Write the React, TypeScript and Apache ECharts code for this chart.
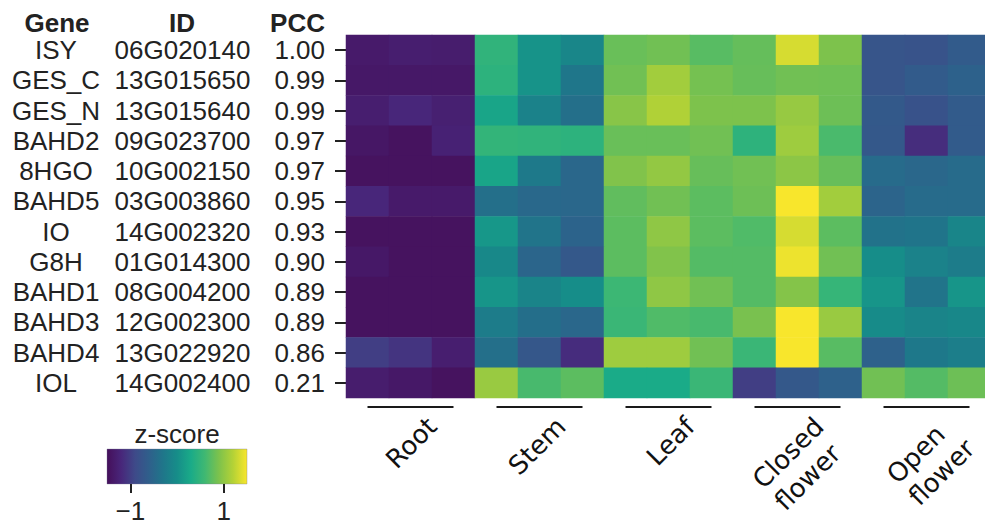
import React, { useEffect, useRef } from "react";
import * as echarts from "echarts";

const genes = ["ISY", "GES_C", "GES_N", "BAHD2", "8HGO", "BAHD5", "IO", "G8H", "BAHD1", "BAHD3", "BAHD4", "IOL"];
const geneIds = ["06G020140", "13G015650", "13G015640", "09G023700", "10G002150", "03G003860", "14G002320", "01G014300", "08G004200", "12G002300", "13G022920", "14G002400"];
const pccValues = ["1.00", "0.99", "0.99", "0.97", "0.97", "0.95", "0.93", "0.90", "0.89", "0.89", "0.86", "0.21"];
const tissues = ["Root", "Stem", "Leaf", "Closed\nflower", "Open\nflower"];
const replicates = [1, 2, 3];

const zISY = [-1.35, -1.3, -1.32, 0.48, 0.06, -0.09, 0.8, 0.84, 0.72, 0.78, 1.35, 0.9, -0.75, -0.77, -0.66];
const zGESC = [-1.38, -1.38, -1.38, 0.45, 0.06, -0.3, 0.84, 1.1, 0.86, 0.79, 0.84, 0.83, -0.75, -0.66, -0.57];
const zGESN = [-1.3, -1.2, -1.28, 0.24, -0.15, -0.39, 0.96, 1.18, 0.9, 0.9, 1.04, 0.82, -0.68, -0.78, -0.66];
const zBAHD2 = [-1.4, -1.45, -1.26, 0.5, 0.48, 0.45, 0.8, 0.8, 0.84, 0.46, 1.08, 0.65, -0.7, -1.14, -0.66];
const z8HGO = [-1.45, -1.45, -1.45, 0.24, -0.26, -0.5, 0.92, 1.02, 0.79, 0.84, 0.98, 0.79, -0.45, -0.5, -0.45];
const zBAHD5 = [-1.2, -1.35, -1.35, -0.39, -0.48, -0.5, 0.76, 0.84, 0.74, 0.82, 1.5, 1.1, -0.54, -0.45, -0.45];
const zIO = [-1.45, -1.45, -1.45, 0.1, -0.33, -0.55, 0.74, 1.0, 0.74, 0.68, 1.35, 0.74, -0.35, -0.32, -0.1];
const zG8H = [-1.38, -1.45, -1.45, -0.06, -0.52, -0.7, 0.74, 0.92, 0.7, 0.7, 1.45, 0.84, 0.0, -0.15, -0.22];
const zBAHD1 = [-1.45, -1.45, -1.45, 0.08, -0.12, 0.0, 0.57, 1.0, 0.84, 0.7, 0.94, 0.52, 0.08, -0.33, 0.08];
const zBAHD3 = [-1.45, -1.45, -1.45, -0.22, -0.4, -0.5, 0.55, 0.68, 0.64, 0.88, 1.5, 1.05, -0.02, -0.12, -0.08];
const zBAHD4 = [-1.0, -1.08, -1.3, -0.39, -0.72, -1.15, 1.08, 1.08, 0.84, 0.55, 1.5, 0.72, -0.58, -0.28, -0.2];
const zIOL = [-1.32, -1.38, -1.45, 1.05, 0.64, 0.74, 0.3, 0.3, 0.55, -1.0, -0.7, -0.58, 0.84, 0.7, 0.82];

const zRows = [zISY, zGESC, zGESN, zBAHD2, z8HGO, zBAHD5, zIO, zG8H, zBAHD1, zBAHD3, zBAHD4, zIOL];
const zMin = -1.5;
const zMax = 1.5;
const colorbarTicks = [-1, 1];

// viridis as it appears in the reference rendering
const palette = ["#450f5a", "#48267a", "#3e4a89", "#2f5f8b", "#1f768a", "#168d89", "#1aab88", "#40b872", "#7dc24c", "#b4d236", "#f8e62c"];

const SANS = "Liberation Sans, Arial, sans-serif";
const DEJAVU = "DejaVu Sans, sans-serif";

export default function App() {
  const ref = useRef<HTMLDivElement>(null);

  useEffect(() => {
    if (!ref.current) return;
    const chart = echarts.init(ref.current, undefined, { renderer: "svg" });

    const columns = tissues.flatMap((t) => replicates.map((r) => `${t.replace("\n", " ")} ${r}`));
    const heatData: number[][] = [];
    zRows.forEach((row, yi) => row.forEach((v, xi) => heatData.push([xi, yi, v])));
    const lastRow = genes.length - 1;

    const groupLabel = (v: number) => {
      const t = tissues[Math.floor(v / 3)] || "";
      const lines = t.split("\n");
      if (lines.length > 1) return ["{a|\u00a0}", ...lines.map((l) => `{a|${l}}`)].join("\n");
      return `{a|${t}}`;
    };

    const yLabelBase = {
      interval: 0,
      fontSize: 26,
      fontFamily: SANS,
      color: "#222",
      padding: [5, 0, 0, 0],
    };

    chart.setOption({
      animation: false,
      backgroundColor: "#fff",
      grid: [
        { left: 346, top: 35, width: 645, height: 363, containLabel: false, outerBoundsMode: "none" },
        {
          left: 107, top: 449, width: 140, height: 35, containLabel: false, outerBoundsMode: "none",
          show: true, borderWidth: 1, borderColor: "rgba(120,120,150,0.35)",
          backgroundColor: new echarts.graphic.LinearGradient(0, 0, 1, 0,
            palette.map((c, i) => ({ offset: i / (palette.length - 1), color: c }))),
        },
      ],
      xAxis: [
        {
          type: "category", gridIndex: 0, data: columns,
          axisLine: { show: false }, axisTick: { show: false }, axisLabel: { show: false }, splitLine: { show: false },
        },
        {
          type: "value", gridIndex: 0, min: 0, max: columns.length, position: "bottom",
          axisLine: { show: false }, axisTick: { show: false }, splitLine: { show: false },
          axisLabel: {
            customValues: tissues.map((_t, i) => i * 3 + 2),
            rotate: 45, margin: 24, formatter: groupLabel,
            rich: { a: { fontSize: 26, fontFamily: DEJAVU, color: "#111", lineHeight: 31, align: "left" } },
          },
        },
        {
          type: "value", gridIndex: 1, min: zMin, max: zMax, position: "bottom",
          axisLine: { show: false }, splitLine: { show: false },
          axisTick: { show: true, customValues: colorbarTicks, length: 9, lineStyle: { color: "#222", width: 2 } },
          axisLabel: {
            customValues: colorbarTicks, margin: 14, fontSize: 26, fontFamily: SANS, color: "#222",
            formatter: (v: number) => (v < 0 ? "\u2212" + Math.abs(v) : String(v)),
          },
        },
      ],
      yAxis: [
        {
          type: "category", gridIndex: 0, data: genes, inverse: true, position: "left",
          axisLine: { show: false }, splitLine: { show: false },
          axisTick: { show: true, interval: 0, alignWithLabel: true, length: 11, lineStyle: { color: "#222", width: 2 } },
          axisLabel: { ...yLabelBase, margin: 21, align: "right", formatter: (_v: string, i: number) => pccValues[i] },
        },
        {
          type: "category", gridIndex: 0, data: geneIds, inverse: true, position: "left",
          axisLine: { show: false }, axisTick: { show: false }, splitLine: { show: false },
          axisLabel: { ...yLabelBase, margin: 163.5, align: "center" },
        },
        {
          type: "category", gridIndex: 0, data: genes, inverse: true, position: "left",
          axisLine: { show: false }, axisTick: { show: false }, splitLine: { show: false },
          axisLabel: { ...yLabelBase, margin: 290, align: "center" },
        },
        { type: "value", gridIndex: 1, show: false, min: 0, max: 1 },
      ],
      visualMap: {
        type: "continuous", show: false, min: zMin, max: zMax, dimension: 2, seriesIndex: 0,
        inRange: { color: palette },
      },
      graphic: [
        { type: "text", x: 57, y: 23, style: { text: "Gene", fontSize: 26, fontWeight: "bold", fontFamily: SANS, fill: "#222", align: "center", verticalAlign: "middle" } },
        { type: "text", x: 182, y: 23, style: { text: "ID", fontSize: 26, fontWeight: "bold", fontFamily: SANS, fill: "#222", align: "center", verticalAlign: "middle" } },
        { type: "text", x: 325, y: 23, style: { text: "PCC", fontSize: 26, fontWeight: "bold", fontFamily: SANS, fill: "#222", align: "right", verticalAlign: "middle" } },
        { type: "text", x: 177, y: 434, style: { text: "z-score", fontSize: 26, fontFamily: SANS, fill: "#222", align: "center", verticalAlign: "middle" } },
      ],
      series: [
        {
          type: "heatmap", xAxisIndex: 0, yAxisIndex: 0, data: heatData,
          itemStyle: { borderWidth: 0 }, emphasis: { disabled: true }, label: { show: false },
        },
        {
          type: "custom", xAxisIndex: 0, yAxisIndex: 0, clip: false, silent: true,
          data: tissues.map((_, i) => [i]),
          renderItem: (_params: any, api: any) => {
            const g = api.value(0);
            const p0 = api.coord([g * 3, lastRow]);
            const p1 = api.coord([g * 3 + 2, lastRow]);
            const h = api.size([1, 1])[1];
            const y = p0[1] + h / 2 + 9;
            return {
              type: "line",
              shape: { x1: p0[0], y1: y, x2: p1[0], y2: y },
              style: { stroke: "#1a1a1a", lineWidth: 2 },
            };
          },
        },
      ],
    });

    return () => chart.dispose();
  }, []);

  return (
    <div style={{ position: "fixed", left: 0, top: 0, width: 985, height: 526, overflow: "hidden", background: "#fff" }}>
      <div ref={ref} style={{ width: 1000, height: 526 }} />
    </div>
  );
}
